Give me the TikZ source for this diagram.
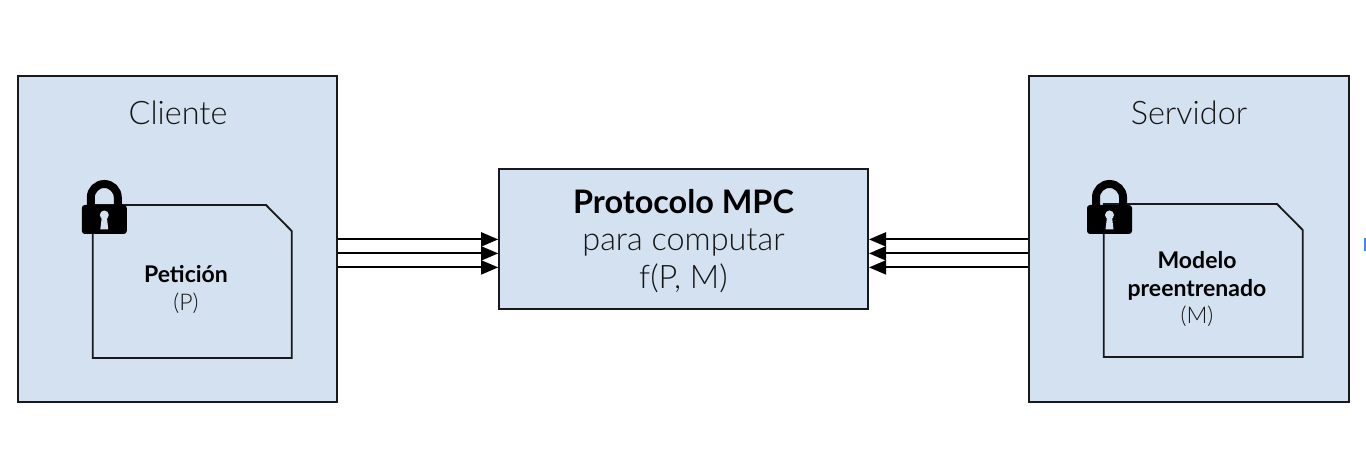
\documentclass[tikz,border=0pt]{standalone}
\usepackage{fontspec}
\setmainfont{Lato}
\newfontfamily\lightfont{Lato Light}
\usepackage{tikz}
\usetikzlibrary{arrows.meta}
\definecolor{boxblue}{rgb}{0.827,0.882,0.945}
\definecolor{edgeblue}{rgb}{0.26,0.52,0.96}
\tikzset{
	panel/.style={draw=black!90, fill=boxblue, line width=1.8pt, inner sep=0pt, anchor=north west},
	docline/.style={draw=black!90, line width=1.8pt, line join=miter},
	flow/.style={line width=2pt, -{Triangle[length=17pt,width=14pt]}},
	flowback/.style={line width=2pt, {Triangle[length=17pt,width=14pt]}-},
	title/.style={font=\lightfont\fontsize{32.4}{38}\selectfont, text=black!92},
	bold/.style={font=\bfseries\fontsize{23}{28}\selectfont, align=center},
	small/.style={font=\lightfont\fontsize{23}{28}\selectfont, text=black!92},
	padlock/.pic={
		\draw[line width=8pt] (-13.5,12) -- (-13.5,22.5) arc (180:0:13.5) -- (13.5,12);
		\fill[black, rounded corners=3pt] (-22.5,-14) rectangle (22.5,15);
		\fill[boxblue] (0,5) circle (4.5);
		\fill[boxblue] (-2.5,3) -- (2.5,3) -- (4,-9.5) -- (-4,-9.5) -- cycle;
	}
}
\begin{document}
\begin{tikzpicture}[x=1pt,y=1pt]
	\useasboundingbox (0,0) rectangle (1366,468);
	% boxes
	\node[panel, minimum width=319pt, minimum height=326pt] (cliente) at (17.2,392.5) {};
	\node[panel, minimum width=320pt, minimum height=326pt] (servidor) at (1028.2,392.5) {};
	\node[panel, minimum width=369pt, minimum height=140pt] (mpc) at (498.2,299.5) {};
	\node[title] (clientetxt) at (178,355) {Cliente};
	\node[title] (servidortxt) at (1189,355) {Servidor};
	% documents
	\draw[docline] (92.7,263) -- (266,263) -- (291.7,237) -- (291.7,110) -- (92.7,110) -- cycle;
	\draw[docline] (1103.7,264) -- (1277,264) -- (1302.7,238) -- (1302.7,111) -- (1103.7,111) -- cycle;
	\pic at (104.3,248) {padlock};
	\pic at (1109.5,248) {padlock};
	% texts
	\node[bold] (peticion) at (186,194) {Petición};
	\node[small] (p) at (186,165) {(P)};
	\node[bold] (modelo) at (1197,208) {Modelo};
	\node[bold] (preentrenado) at (1197,178.5) {preentrenado};
	\node[small] (m) at (1197,152) {(M)};
	\node[font=\bfseries\fontsize{32.4}{38}\selectfont] (mpctitle) at (683.5,266) {Protocolo MPC};
	\node[title] (mpcline) at (683.5,226) {para computar};
	\node[title] (mpcfunc) at (683.5,190) {f(P, M)};
	% arrows
	\foreach \d in {0,14,28} {
		\draw[flow] ([yshift=-\d pt]cliente.east) -- ([yshift=-\d pt]mpc.west);
		\draw[flowback] ([yshift=-\d pt]mpc.east) -- ([yshift=-\d pt]servidor.west);
	}
	\fill[edgeblue] (1364,217) rectangle (1366,230);
\end{tikzpicture}
\end{document}
